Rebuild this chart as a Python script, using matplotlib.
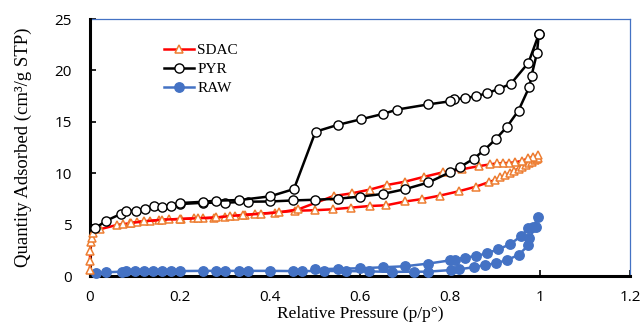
import matplotlib
matplotlib.use("Agg")
import matplotlib.pyplot as plt

# ---------------- data ----------------
sdac_ads_x = [0.000, 0.000, 0.000, 0.002, 0.004, 0.007, 0.022, 0.059, 0.074, 0.089, 0.105, 0.133,
              0.153, 0.176, 0.202, 0.230, 0.252, 0.276, 0.300, 0.322, 0.344, 0.367, 0.410, 0.456,
              0.500, 0.539, 0.579, 0.621, 0.658, 0.700, 0.737, 0.778, 0.819, 0.857, 0.887, 0.900,
              0.911, 0.922, 0.933, 0.943, 0.952, 0.960, 0.968, 0.975, 0.982, 0.988, 0.993, 0.996]
sdac_ads_y = [0.60, 1.50, 2.46, 3.30, 3.65, 4.15, 4.55, 4.96, 5.06, 5.12, 5.28, 5.35,
              5.45, 5.51, 5.54, 5.61, 5.61, 5.67, 5.77, 5.84, 5.93, 6.05, 6.16, 6.35,
              6.40, 6.49, 6.65, 6.81, 6.88, 7.25, 7.48, 7.83, 8.24, 8.69, 9.15, 9.34,
              9.60, 9.80, 10.05, 10.25, 10.45, 10.62, 10.80, 10.95, 11.10, 11.25, 11.35, 11.45]
sdac_des_x = [0.996, 0.985, 0.974, 0.959, 0.944, 0.930, 0.917, 0.904, 0.889, 0.865, 0.826, 0.785,
              0.743, 0.700, 0.659, 0.621, 0.581, 0.541, 0.463, 0.420, 0.380, 0.340, 0.310, 0.280,
              0.240, 0.200, 0.160, 0.120, 0.090]
sdac_des_y = [11.77, 11.60, 11.45, 11.20, 11.06, 11.00, 10.98, 10.96, 10.86, 10.70, 10.38, 10.10,
              9.66, 9.18, 8.85, 8.40, 8.04, 7.78, 6.49, 6.20, 6.05, 5.95, 5.82, 5.70,
              5.62, 5.55, 5.48, 5.32, 5.15]

pyr_ads_x = [0.011, 0.036, 0.068, 0.081, 0.102, 0.122, 0.142, 0.161, 0.179, 0.200, 0.250, 0.300,
             0.350, 0.400, 0.450, 0.500, 0.550, 0.600, 0.650, 0.700, 0.752, 0.800, 0.822, 0.852,
             0.876, 0.901, 0.926, 0.952, 0.976, 0.981, 0.993, 0.997]
pyr_ads_y = [4.64, 5.38, 6.03, 6.35, 6.35, 6.52, 6.84, 6.74, 6.84, 7.00, 7.12, 7.13,
             7.23, 7.25, 7.35, 7.42, 7.52, 7.72, 7.98, 8.45, 9.10, 10.10, 10.60, 11.40,
             12.26, 13.30, 14.50, 16.10, 18.40, 19.50, 21.70, 23.50]
pyr_des_x = [0.997, 0.974, 0.935, 0.908, 0.883, 0.858, 0.833, 0.809, 0.800, 0.752, 0.683, 0.650,
             0.601, 0.550, 0.501, 0.453, 0.400, 0.332, 0.281, 0.250, 0.200]
pyr_des_y = [23.50, 20.75, 18.70, 18.20, 17.80, 17.50, 17.30, 17.20, 17.00, 16.70, 16.20, 15.76,
             15.24, 14.70, 14.04, 8.46, 7.75, 7.39, 7.33, 7.22, 7.10]

raw_ads_x = [0.013, 0.035, 0.070, 0.080, 0.100, 0.120, 0.140, 0.160, 0.180, 0.200, 0.250, 0.280,
             0.300, 0.332, 0.350, 0.400, 0.450, 0.470, 0.520, 0.569, 0.619, 0.670, 0.720, 0.750,
             0.802, 0.819, 0.852, 0.878, 0.902, 0.926, 0.952, 0.974, 0.976, 0.990]
raw_ads_y = [0.26, 0.36, 0.42, 0.45, 0.47, 0.47, 0.48, 0.48, 0.48, 0.48, 0.50, 0.50,
             0.50, 0.50, 0.50, 0.50, 0.48, 0.48, 0.49, 0.48, 0.45, 0.40, 0.42, 0.42,
             0.58, 0.65, 0.85, 1.07, 1.23, 1.56, 2.04, 3.00, 3.67, 4.80]
raw_des_x = [0.995, 0.985, 0.974, 0.958, 0.933, 0.907, 0.881, 0.857, 0.832, 0.810, 0.800, 0.750,
             0.700, 0.650, 0.600, 0.550, 0.500]
raw_des_y = [5.70, 4.80, 4.64, 3.90, 3.08, 2.60, 2.20, 1.94, 1.78, 1.60, 1.52, 1.20,
             0.95, 0.85, 0.75, 0.71, 0.65]

x_ticks = [0, 0.2, 0.4, 0.6, 0.8, 1, 1.2]
x_tick_labels = ["0", "0.2", "0.4", "0.6", "0.8", "1", "1.2"]
y_ticks = [0, 5, 10, 15, 20, 25]
y_tick_labels = ["0", "5", "10", "15", "20", "25"]

# ---------------- figure ----------------
fig = plt.figure(figsize=(6.43, 3.23), dpi=100)
ax = fig.add_axes([0.14, 0.1455, 0.84, 0.7955])

red = "#FF0000"
orange = "#ED7D31"
blue = "#4472C4"

common = dict(lw=1.8, clip_on=False, zorder=5)
ax.plot(raw_ads_x, raw_ads_y, color=blue, marker="o", ms=6.8, mfc=blue, mec=blue, label="RAW", **common)
ax.plot(raw_des_x, raw_des_y, color=blue, marker="o", ms=6.8, mfc=blue, mec=blue, **common)
ax.plot(sdac_ads_x, sdac_ads_y, color=red, marker="^", ms=6.0, mfc="white", mec=orange, mew=1.1,
        label="SDAC", **common)
ax.plot(sdac_des_x, sdac_des_y, color=red, marker="^", ms=6.0, mfc="white", mec=orange, mew=1.1, **common)
ax.plot(pyr_ads_x, pyr_ads_y, color="black", marker="o", ms=6.6, mfc="white", mec="black", mew=1.0,
        label="PYR", **common)
ax.plot(pyr_des_x, pyr_des_y, color="black", marker="o", ms=6.6, mfc="white", mec="black", mew=1.0, **common)

ax.set_xlim(0, 1.2)
ax.set_ylim(0, 25)
ax.set_xticks(x_ticks)
ax.set_xticklabels(x_tick_labels)
ax.set_yticks(y_ticks)
ax.set_yticklabels(y_tick_labels)

for s in ["left", "bottom"]:
    ax.spines[s].set_color("black")
    ax.spines[s].set_linewidth(2.2)
    ax.spines[s].set_zorder(4)
for s in ["top", "right"]:
    ax.spines[s].set_color(blue)
    ax.spines[s].set_linewidth(0.9)

ax.tick_params(axis="both", direction="in", length=4, width=1.2, labelsize=11, colors="black")
ax.tick_params(axis="x", pad=10)
ax.tick_params(axis="y", pad=13)
for lab in ax.get_xticklabels() + ax.get_yticklabels():
    lab.set_family("Open Sans")

serif = "Liberation Serif"
ax.set_xlabel("Relative Pressure (p/p°)", family=serif, fontsize=12.5, labelpad=0.5)
ax.set_ylabel("Quantity Adsorbed (cm³/g STP)", family=serif, fontsize=13.5, labelpad=16)

handles, labels = ax.get_legend_handles_labels()
order = [labels.index("SDAC"), labels.index("PYR"), labels.index("RAW")]
leg = ax.legend([handles[i] for i in order], [labels[i] for i in order],
                loc="upper left", bbox_to_anchor=(0.125, 0.93), frameon=False,
                numpoints=1, handlelength=2.0, handletextpad=0.2, labelspacing=0.35,
                prop={"family": serif, "size": 11}, borderaxespad=0)

fig.savefig("out.png", dpi=100)
